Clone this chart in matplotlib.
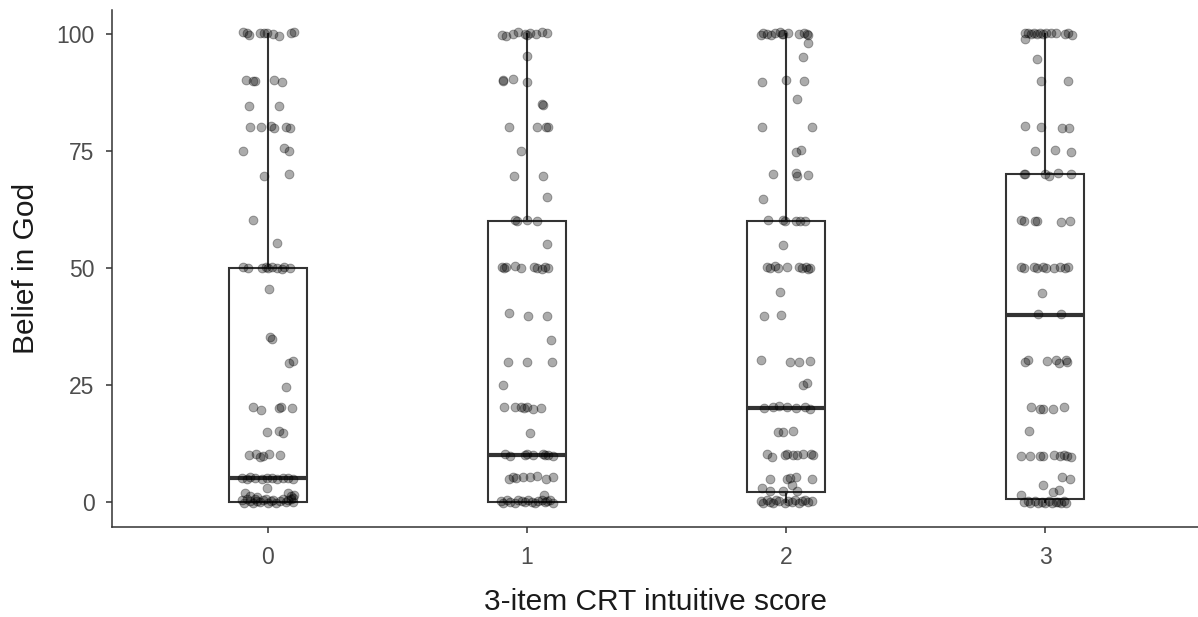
import matplotlib
matplotlib.use("Agg")
import matplotlib.pyplot as plt
import numpy as np

plt.rcParams['font.family'] = ['Liberation Sans', 'DejaVu Sans']

categories = ["0", "1", "2", "3"]

# box statistics
q1 = [0, 0, 2, 0.6]
med = [5, 10, 20, 40]
q3 = [50, 60, 60, 70]
whislo = [0, 0, 0, 0]
whishi = [100, 100, 100, 100]

# jittered observations (belief value, horizontal jitter) per CRT score
y0 = [100.3, 100.2, 99.8, 100.2, 100.1, 100.2, 100.0, 99.5, 100.1, 100.3,
      90.2, 90.0, 89.9, 90.2, 89.7, 84.6, 84.6,
      80.2, 80.1, 80.3, 79.9, 80.1, 79.9, 75.0, 75.5, 75.0, 69.7, 70.1, 60.3, 55.3,
      50.1, 49.9, 50.0, 50.2, 49.9, 50.1, 50.0, 49.8, 50.2, 50.0,
      45.5, 35.2, 34.8, 29.6, 30.1, 24.6,
      20.2, 19.6, 20.1, 20.3, 20.1, 15.0, 15.1, 14.7,
      10.0, 10.2, 9.6, 9.8, 10.2, 10.0,
      5.1, 4.9, 5.2, 5.0, 4.9, 5.1, 5.0, 4.8, 5.1, 5.0, 4.9,
      2.9, 1.9, 1.9, 1.4, 1.2, 1.0, 1.3, 0.9,
      0.4, -0.2, 0.6, 0.1, -0.3, 0.5, 0.2, -0.1, 0.3, 0.6, -0.2, 0.1, 0.4, -0.3, 0.2, 0.5, -0.1, 0.3, 0.6, 0.0]
j0 = [-0.095, -0.082, -0.072, -0.031, -0.015, -0.005, 0.018, 0.044, 0.088, 0.100,
      -0.086, -0.059, -0.050, 0.023, 0.055, -0.073, 0.044,
      -0.069, -0.028, 0.012, 0.023, 0.069, 0.085, -0.095, 0.062, 0.082, -0.015, 0.082, -0.059, 0.033,
      -0.095, -0.076, -0.024, -0.008, 0.001, 0.014, 0.033, 0.053, 0.062, 0.085,
      0.004, 0.008, 0.015, 0.082, 0.098, 0.069,
      -0.057, -0.028, 0.044, 0.050, 0.093, -0.003, 0.042, 0.059,
      -0.072, -0.046, -0.031, -0.018, 0.005, 0.046,
      -0.102, -0.082, -0.069, -0.050, -0.024, -0.005, 0.014, 0.033, 0.057, 0.079, 0.095,
      -0.005, -0.089, 0.079, 0.100, -0.069, -0.044, 0.088, 0.098,
      -0.102, -0.093, -0.082, -0.069, -0.059, -0.050, -0.041, -0.031, -0.018, -0.008, 0.001, 0.010, 0.021, 0.031, 0.046, 0.059, 0.069, 0.079, 0.088, 0.098]

y1 = [99.8, 99.6, 99.9, 100.4, 100.0, 99.7, 100.2, 99.9, 100.3, 100.1,
      95.3, 90.2, 90.0, 90.3, 89.7, 85.0, 84.7,
      80.2, 80.0, 80.2, 80.0, 74.9, 69.7, 69.7, 65.2,
      60.3, 60.0, 60.3, 60.0, 55.0,
      50.2, 49.9, 50.1, 50.3, 50.0, 50.2, 50.0, 49.8, 50.1, 49.9,
      40.3, 39.8, 39.8, 34.6, 29.8, 29.8, 29.8, 25.0,
      20.2, 20.2, 20.2, 20.0, 20.2, 19.9, 20.1, 14.7,
      10.2, 9.8, 10.0, 10.1, 9.9, 10.2, 9.9, 10.0, 9.8,
      4.8, 5.3, 5.0, 5.2, 5.3, 5.5, 4.9, 5.2, 1.5,
      0.2, -0.3, 0.4, 0.0, -0.2, 0.3, 0.1, -0.1, 0.4, 0.0, -0.3, 0.2, 0.3, -0.1, 0.1, 0.4, -0.2]
j1 = [-0.098, -0.081, -0.055, -0.033, -0.008, -0.001, 0.012, 0.035, 0.057, 0.079,
      0.001, -0.094, -0.091, -0.053, -0.001, 0.057, 0.063,
      -0.068, 0.037, 0.073, 0.082, -0.024, -0.050, 0.063, 0.076,
      -0.046, -0.037, -0.001, 0.037, 0.079,
      -0.098, -0.089, -0.081, -0.046, -0.023, 0.027, 0.040, 0.057, 0.069, 0.082,
      -0.068, 0.005, 0.076, 0.093, -0.072, 0.001, 0.095, -0.094,
      -0.088, -0.046, -0.023, -0.010, -0.001, 0.024, 0.054, 0.012,
      -0.085, -0.066, -0.008, -0.001, 0.024, 0.060, 0.069, 0.082, 0.099,
      -0.068, -0.053, -0.042, -0.014, 0.012, 0.040, 0.073, 0.099, 0.066,
      -0.102, -0.091, -0.079, -0.066, -0.046, -0.033, -0.021, -0.008, 0.005, 0.018, 0.031, 0.044, 0.057, 0.069, 0.079, 0.089, 0.102]

y2 = [99.8, 100.2, 100.0, 99.8, 100.1, 100.3, 100.0, 99.9, 100.1, 99.9, 100.2, 100.0, 99.7,
      98.0, 95.0, 89.8, 90.2, 90.0, 86.0, 80.2, 80.2, 74.8, 75.2,
      70.0, 70.2, 69.7, 69.8, 64.7,
      60.3, 60.2, 60.0, 60.0, 60.0, 60.1, 54.9,
      50.1, 50.0, 50.3, 49.9, 50.1, 50.2, 50.0, 50.1, 49.8, 50.0,
      44.8, 39.8, 40.0, 30.2, 29.8, 29.8, 30.0, 25.0, 25.3,
      20.0, 20.2, 20.4, 20.3, 20.0, 20.2, 19.9, 14.8, 15.0, 15.2,
      10.1, 9.6, 10.0, 10.2, 10.0, 10.0, 10.1, 10.2, 9.9,
      4.9, 4.9, 5.0, 5.3, 4.9, 3.6, 2.9, 2.3, 2.3, 2.3,
      0.1, -0.3, 0.3, 0.0, -0.2, 0.4, 0.1, -0.3, 0.2, 0.0, 0.3, -0.2, 0.1, 0.4, -0.1, 0.2]
j2 = [-0.098, -0.090, -0.075, -0.059, -0.042, -0.023, -0.017, -0.010, 0.009, 0.048, 0.069, 0.082, 0.086,
      0.086, 0.067, -0.094, 0.000, 0.069, 0.044, -0.094, 0.099, 0.039, 0.058,
      -0.051, 0.039, 0.044, 0.084, -0.088,
      -0.068, -0.013, -0.006, 0.039, 0.054, 0.073, -0.013,
      -0.075, -0.062, -0.042, -0.030, 0.003, 0.051, 0.060, 0.077, 0.086, 0.093,
      -0.023, -0.084, -0.019, -0.098, 0.015, 0.048, 0.093, 0.067, 0.082,
      -0.085, -0.049, -0.026, 0.003, 0.039, 0.073, 0.093, -0.032, -0.013, 0.028,
      -0.075, -0.053, -0.004, 0.003, 0.026, 0.044, 0.064, 0.095, 0.103,
      -0.062, 0.003, 0.015, 0.039, 0.099, 0.022, -0.094, -0.062, -0.010, 0.044,
      -0.098, -0.088, -0.075, -0.062, -0.049, -0.039, -0.026, -0.004, 0.009, 0.022, 0.035, 0.048, 0.060, 0.073, 0.086, 0.099]

y3 = [100.2, 100.1, 100.0, 100.2, 99.9, 100.1, 100.0, 100.2, 100.1, 100.2, 100.0, 100.1, 99.7,
      98.9, 94.6, 90.0, 90.0,
      80.3, 80.0, 79.8, 79.8, 74.9, 75.2, 74.8,
      70.1, 70.1, 70.1, 69.7, 70.2, 70.0,
      60.2, 60.1, 60.0, 60.1, 59.8, 60.0,
      50.1, 49.9, 50.2, 50.0, 50.1, 49.9, 50.0, 50.1, 49.9, 50.1,
      44.6, 40.1, 40.1,
      29.9, 30.3, 30.0, 30.2, 29.7, 30.3, 29.9,
      20.3, 19.9, 19.9, 19.9, 20.2, 15.2,
      9.8, 9.8, 9.8, 9.8, 10.0, 9.8, 10.0, 9.7, 9.6,
      5.3, 4.9, 3.6, 2.5, 2.0, 1.4,
      -0.1, 0.2, -0.3, 0.1, -0.2, 0.0, -0.3, 0.1, -0.2, 0.0, -0.1, -0.3, 0.1, -0.2]
j3 = [-0.076, -0.066, -0.053, -0.042, -0.033, -0.021, -0.008, 0.005, 0.024, 0.040, 0.076, 0.089, 0.102,
      -0.076, -0.031, -0.017, 0.089,
      -0.076, -0.017, 0.066, 0.091, -0.040, 0.037, 0.099,
      -0.081, -0.076, 0.001, 0.014, 0.050, 0.099,
      -0.094, -0.081, -0.040, -0.033, 0.063, 0.095,
      -0.094, -0.081, -0.042, -0.030, -0.008, 0.005, 0.035, 0.057, 0.076, 0.089,
      -0.012, -0.027, 0.063,
      -0.079, -0.068, 0.009, 0.041, 0.053, 0.082, 0.086,
      -0.055, -0.021, -0.008, 0.031, 0.073, -0.062,
      -0.094, -0.059, -0.021, -0.008, 0.035, 0.057, 0.073, 0.086, 0.099,
      0.066, 0.095, -0.008, 0.053, 0.031, -0.094,
      -0.081, -0.068, -0.059, -0.040, -0.027, -0.014, -0.001, 0.014, 0.027, 0.040, 0.050, 0.063, 0.073, 0.082]

values = [y0, y1, y2, y3]
jitters = [j0, j1, j2, j3]

fig = plt.figure(figsize=(11.98, 6.17), dpi=100)
ax = fig.add_axes([112 / 1198, 1 - 527 / 617, 1 - 112 / 1198, (527 - 10) / 617])

stats = []
for i in range(len(categories)):
    stats.append(dict(med=med[i], q1=q1[i], q3=q3[i], whislo=whislo[i], whishi=whishi[i], fliers=[]))
positions = np.arange(len(categories))
ax.bxp(stats, positions=positions, widths=0.3, showcaps=False, showfliers=False,
       patch_artist=True,
       boxprops=dict(facecolor='white', edgecolor='#333333', linewidth=1.5),
       whiskerprops=dict(color='#333333', linewidth=1.5),
       medianprops=dict(color='#333333', linewidth=3),
       manage_ticks=False, zorder=1)

for i in range(len(categories)):
    xs = positions[i] + np.asarray(jitters[i])
    ax.scatter(xs, values[i], s=40, facecolor=(0, 0, 0, 0.33), edgecolor=(0, 0, 0, 0.33),
               linewidth=0.7, zorder=3)

ax.set_xlim(-0.602, 3.59)
ax.set_ylim(-5.4, 105.1)
ax.set_xticks(positions)
ax.set_xticklabels(categories)
ax.set_yticks([0, 25, 50, 75, 100])
ax.tick_params(axis='both', labelsize=16.5, labelcolor='#4D4D4D', color='#333333',
               length=4.5, width=1.1)
ax.tick_params(axis='x', pad=9)
ax.tick_params(axis='y', pad=8)
for side in ['top', 'right']:
    ax.spines[side].set_visible(False)
for side in ['left', 'bottom']:
    ax.spines[side].set_color('#333333')
    ax.spines[side].set_linewidth(1.1)

ax.set_xlabel("3-item CRT intuitive score", fontsize=21.5, color='#1a1a1a', labelpad=14)
ax.set_ylabel("Belief in God", fontsize=21.5, color='#1a1a1a', labelpad=12)

fig.savefig("out.png", dpi=100)
